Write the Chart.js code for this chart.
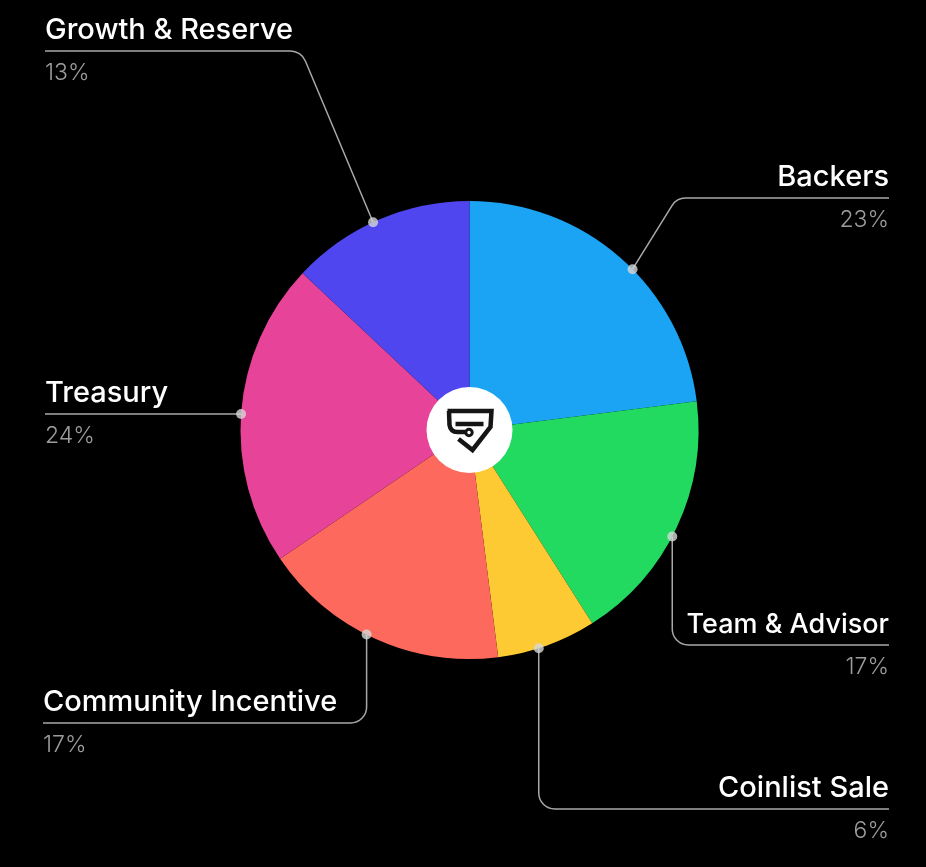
<!DOCTYPE html>
<html>
<head>
<meta charset="utf-8">
<script src="https://cdn.jsdelivr.net/npm/chart.js@4/dist/chart.umd.min.js"></script>
<style>
  html, body { margin: 0; padding: 0; background: #000; }
  #wrap { width: 926px; height: 867px; }
</style>
</head>
<body>
<div id="wrap"><canvas id="allocation-chart" width="926" height="867"></canvas></div>
<script>
// Token allocation, clockwise from the top
const categories = ['Backers', 'Team & Advisor', 'Coinlist Sale', 'Community Incentive', 'Treasury', 'Growth & Reserve'];
// slice sizes as they are drawn in the picture
const shares = [23, 18, 7, 17.5, 21.5, 13];
// percentages printed under each name
const percentLabels = ['23%', '17%', '6%', '17%', '24%', '13%'];
const sliceColors = ['#1ca4f4', '#22da60', '#fdca33', '#fd6a5d', '#e74398', '#4f46f0'];

// where each leader line goes (layout only); shift = degrees off the slice middle
const leaders = {
  'Backers': { route: 'diag', lineY: 198, endX: 889, k: 0.62, shift: 4 },
  'Team & Advisor': { route: 'down', lineY: 645, endX: 889, shift: 2.5, size: 27 },
  'Coinlist Sale': { route: 'down', lineY: 809, endX: 889, shift: 2.2 },
  'Community Incentive': { route: 'down', lineY: 723, endX: 43, shift: 2.4 },
  'Treasury': { route: 'flat', endX: 45, shift: -0.5 },
  'Growth & Reserve': { route: 'diag', lineY: 51, endX: 45, k: 0.42, shift: -1.5 }
};

/* draws the logo badge, leader lines and labels */
const labelPlugin = {
  id: 'labelPlugin',
  afterDraw(chart) {
    const ctx = chart.ctx;
    const arcs = chart.getDatasetMeta(0).data;
    const cx = arcs[0].x, cy = arcs[0].y;

    // center badge
    ctx.save();
    ctx.fillStyle = '#fff';
    ctx.beginPath();
    ctx.arc(cx, cy, 43, 0, Math.PI * 2);
    ctx.fill();

    // shield logo
    ctx.translate(cx - 470, cy - 432);
    ctx.strokeStyle = '#151515';
    ctx.lineWidth = 4.5;
    ctx.lineJoin = 'miter';
    ctx.beginPath();
    ctx.moveTo(448, 413);
    ctx.lineTo(492, 413);
    ctx.lineTo(491, 429);
    ctx.lineTo(473, 452);
    ctx.lineTo(459, 441);
    ctx.stroke();
    ctx.beginPath();
    ctx.moveTo(449.5, 413);
    ctx.lineTo(450, 427);
    ctx.quadraticCurveTo(451, 434, 458, 434);
    ctx.lineTo(466, 434);
    ctx.stroke();
    ctx.beginPath();
    ctx.moveTo(456, 426);
    ctx.lineTo(484, 426);
    ctx.stroke();
    ctx.lineWidth = 3;
    ctx.beginPath();
    ctx.arc(469.5, 434.5, 3.2, 0, Math.PI * 2);
    ctx.stroke();
    ctx.restore();

    arcs.forEach((arc, i) => {
      const props = arc.getProps(['startAngle', 'endAngle', 'outerRadius']);
      const cfg = leaders[categories[i]];
      const mid = (props.startAngle + props.endAngle) / 2 + cfg.shift * Math.PI / 180;
      const dx = cx + Math.cos(mid) * props.outerRadius;
      const dy = cy + Math.sin(mid) * props.outerRadius;
      const dir = cfg.endX > dx ? 1 : -1;
      const lineY = cfg.route === 'flat' ? dy : cfg.lineY;

      ctx.save();
      ctx.strokeStyle = '#a8a8a8';
      ctx.lineWidth = 1.5;
      ctx.beginPath();
      ctx.moveTo(dx, dy);
      if (cfg.route === 'diag') {
        const vx = dx + dir * Math.abs(dy - lineY) * cfg.k;
        ctx.arcTo(vx, lineY, cfg.endX, lineY, 16);
      } else if (cfg.route === 'down') {
        ctx.arcTo(dx, lineY, cfg.endX, lineY, 16);
      }
      ctx.lineTo(cfg.endX, lineY);
      ctx.stroke();

      // dot on the rim
      ctx.fillStyle = 'rgba(215,215,215,0.8)';
      ctx.beginPath();
      ctx.arc(dx, dy, 5, 0, Math.PI * 2);
      ctx.fill();

      // texts
      ctx.textAlign = dir > 0 ? 'right' : 'left';
      ctx.textBaseline = 'alphabetic';
      ctx.fillStyle = '#ffffff';
      ctx.font = '500 ' + (cfg.size || 29) + 'px Inter, "Noto Sans", sans-serif';
      ctx.fillText(categories[i], cfg.endX, lineY - 12);
      ctx.fillStyle = '#9c9c9c';
      ctx.font = '300 23px Inter, "Noto Sans", sans-serif';
      ctx.fillText(percentLabels[i], cfg.endX, lineY + 29);
      ctx.restore();
    });
  }
};

new Chart(document.getElementById('allocation-chart'), {
  type: 'pie',
  data: {
    labels: categories,
    datasets: [{
      data: shares,
      backgroundColor: sliceColors,
      borderWidth: 0
    }]
  },
  options: {
    responsive: false,
    animation: false,
    layout: { padding: { left: 240, right: 227, top: 201, bottom: 208 } },
    plugins: {
      legend: { display: false },
      tooltip: { enabled: false }
    }
  },
  plugins: [labelPlugin]
});
</script>
</body>
</html>
